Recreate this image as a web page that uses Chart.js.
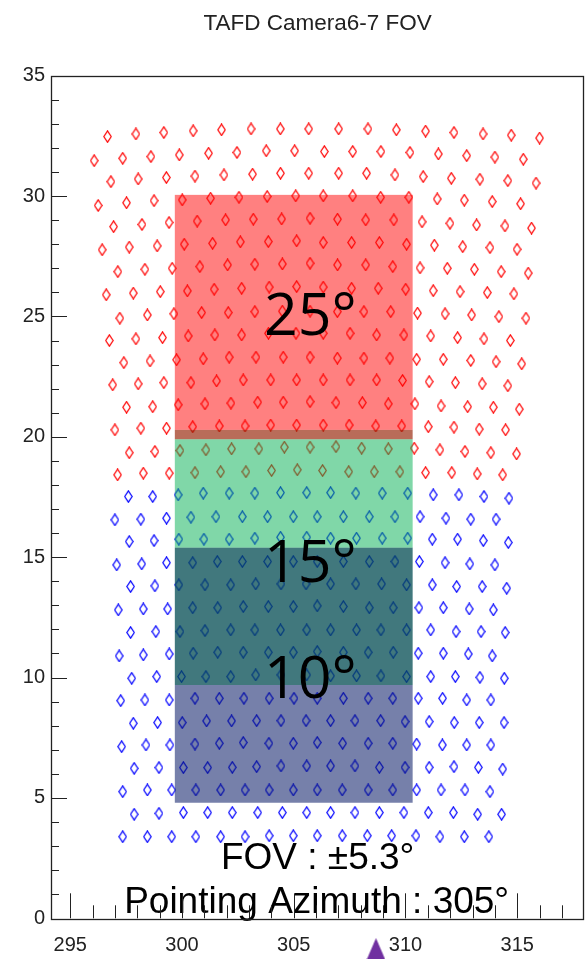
<!DOCTYPE html>
<html>
<head>
<meta charset="utf-8">
<title>TAFD Camera6-7 FOV</title>
<script src="https://cdn.jsdelivr.net/npm/chart.js@4.4.1/dist/chart.umd.min.js"></script>
<style>
  html, body { margin: 0; padding: 0; background: #ffffff; }
  #fov { display: block; }
</style>
</head>
<body>
<canvas id="fov" width="587" height="959"></canvas>
<script>
// Axis tick values (azimuth / elevation, degrees)
const azTicks = [295, 300, 305, 310, 315];
const elTicks = [0, 5, 10, 15, 20, 25, 30, 35];

// Camera 6 PMT pointing directions, one inner array per PMT row (azimuth, degrees)
const cam6Az = [
  [296.67,297.94,299.19,300.50,301.77,303.09,304.40,305.67,307.01,308.32,309.59,310.90,312.17,313.47,314.73,316.00],
  [296.07,297.35,298.61,299.88,301.19,302.46,303.77,305.04,306.37,307.64,308.90,310.20,311.47,312.74,314.00,315.27],
  [296.82,298.04,299.30,300.58,301.88,303.16,304.41,305.67,307.01,308.26,309.53,310.79,312.05,313.33,314.58,315.84],
  [296.25,297.52,298.75,300.01,301.28,302.55,303.81,305.09,306.32,307.64,308.89,310.15,311.42,312.63,313.88,315.15],
  [296.94,298.21,299.42,300.68,301.95,303.19,304.46,305.73,306.96,308.22,309.48,310.74,311.99,313.18,314.45,315.64],
  [296.43,297.64,298.89,300.10,301.37,302.61,303.86,305.13,306.32,307.59,308.83,310.05,311.29,312.56,313.78,314.99],
  [297.13,298.34,299.56,300.80,302.04,303.26,304.49,305.73,306.96,308.22,309.43,310.65,311.87,313.08,314.28,315.49],
  [296.61,297.82,299.03,300.24,301.44,302.67,303.90,305.13,306.32,307.59,308.78,310.01,311.24,312.44,313.66,314.85],
  [297.22,298.45,299.64,300.88,302.07,303.26,304.49,305.73,306.95,308.14,309.34,310.54,311.77,312.96,314.18,315.39],
  [296.75,297.94,299.13,300.28,301.47,302.67,303.87,305.10,306.32,307.52,308.71,309.93,311.13,312.33,313.51,314.69],
  [297.40,298.57,299.76,300.95,302.11,303.31,304.53,305.73,306.95,308.14,309.30,310.50,311.69,312.92,314.05,315.20],
  [296.90,298.04,299.19,300.40,301.55,302.74,303.97,305.13,306.32,307.52,308.71,309.87,311.06,312.23,313.43,314.58],
  [297.52,298.69,299.83,301.03,302.19,303.39,304.53,305.73,306.89,308.07,309.23,310.42,311.59,312.78,313.93,315.09],
  [297.00,298.16,299.31,300.48,301.67,302.82,303.97,305.13,306.32,307.48,308.67,309.83,311.02,312.17,313.30,314.48],
  [297.64,298.79,299.91,301.07,302.22,303.44,304.58,305.73,306.89,308.04,309.23,310.39,311.54,312.66,313.82,314.97],
  [297.12,298.27,299.43,300.58,301.73,302.86,304.01,305.16,306.29,307.46,308.60,309.75,310.90,312.07,313.21,314.35]
];
// Camera 6 elevations (degrees), same layout as cam6Az
const cam6El = [
  [32.47,32.58,32.64,32.71,32.75,32.79,32.79,32.79,32.79,32.79,32.75,32.70,32.64,32.58,32.53,32.41],
  [31.47,31.57,31.64,31.71,31.78,31.81,31.88,31.88,31.85,31.85,31.85,31.81,31.75,31.68,31.62,31.53],
  [30.60,30.71,30.77,30.83,30.88,30.91,30.95,30.95,30.95,30.95,30.88,30.81,30.74,30.70,30.64,30.54],
  [29.61,29.72,29.81,29.84,29.91,29.95,29.98,30.01,30.01,30.01,29.95,29.95,29.88,29.83,29.77,29.68],
  [28.73,28.82,28.90,28.96,29.01,29.04,29.05,29.08,29.04,29.01,29.01,28.93,28.87,28.80,28.76,28.67],
  [27.77,27.88,27.93,28.00,28.04,28.10,28.11,28.14,28.07,28.07,28.07,28.00,27.96,27.90,27.86,27.79],
  [26.86,26.96,27.00,27.07,27.14,27.17,27.18,27.21,27.14,27.14,27.07,27.02,27.00,26.96,26.86,26.80],
  [25.90,25.97,26.03,26.06,26.13,26.17,26.22,26.24,26.22,26.17,26.17,26.13,26.07,26.03,25.99,25.94],
  [24.93,25.06,25.11,25.16,25.16,25.20,25.22,25.22,25.20,25.20,25.20,25.14,25.11,25.06,24.99,24.93],
  [24.00,24.07,24.12,24.19,24.23,24.23,24.30,24.30,24.30,24.30,24.23,24.23,24.19,24.12,24.07,24.00],
  [23.08,23.15,23.20,23.24,23.31,23.31,23.31,23.31,23.27,23.27,23.27,23.22,23.22,23.17,23.12,23.03],
  [22.16,22.20,22.25,22.25,22.32,22.36,22.36,22.36,22.36,22.36,22.36,22.34,22.29,22.25,22.20,22.12],
  [21.23,21.25,21.33,21.37,21.40,21.44,21.44,21.46,21.42,21.42,21.37,21.37,21.28,21.25,21.23,21.15],
  [20.29,20.36,20.36,20.42,20.45,20.45,20.49,20.49,20.49,20.49,20.45,20.45,20.42,20.40,20.32,20.29],
  [19.34,19.39,19.43,19.46,19.50,19.50,19.57,19.57,19.59,19.53,19.50,19.53,19.46,19.39,19.34,19.29],
  [18.42,18.49,18.49,18.51,18.55,18.55,18.60,18.63,18.60,18.55,18.55,18.55,18.51,18.51,18.46,18.42]
];

// Camera 7 PMT pointing directions (azimuth, degrees)
const cam7Az = [
  [297.60,298.69,299.83,300.95,302.11,303.26,304.41,305.58,306.65,307.78,308.96,310.10,311.24,312.39,313.51,314.63],
  [297.00,298.16,299.31,300.40,301.52,302.70,303.83,304.98,306.05,307.22,308.38,309.53,310.65,311.81,312.92,314.05],
  [297.64,298.75,299.86,300.98,302.11,303.26,304.41,305.58,306.65,307.81,308.96,310.10,311.20,312.33,313.48,314.60],
  [297.08,298.20,299.31,300.48,301.58,302.70,303.83,304.98,306.05,307.22,308.38,309.53,310.62,311.77,312.88,314.00],
  [297.70,298.79,299.86,301.03,302.18,303.30,304.43,305.55,306.65,307.78,308.93,310.05,311.20,312.29,313.43,314.53],
  [297.15,298.27,299.36,300.48,301.60,302.74,303.86,304.98,306.05,307.22,308.38,309.45,310.60,311.69,312.85,313.93],
  [297.70,298.83,299.91,301.03,302.18,303.26,304.41,305.58,306.65,307.81,308.90,310.05,311.13,312.26,313.38,314.46],
  [297.19,298.27,299.43,300.50,301.60,302.74,303.86,304.98,306.05,307.22,308.33,309.45,310.57,311.69,312.81,313.88],
  [297.75,298.87,299.98,301.07,302.18,303.30,304.43,305.58,306.65,307.81,308.90,310.05,311.13,312.23,313.33,314.42],
  [297.26,298.34,299.43,300.58,301.67,302.77,303.90,305.01,306.05,307.22,308.33,309.43,310.57,311.66,312.74,313.82],
  [297.82,298.91,300.01,301.10,302.22,303.34,304.43,305.55,306.65,307.74,308.89,309.98,311.06,312.18,313.30,314.41],
  [297.30,298.39,299.46,300.58,301.67,302.74,303.89,304.98,306.05,307.19,308.33,309.43,310.50,311.65,312.74,313.82],
  [297.86,298.97,300.06,301.15,302.25,303.34,304.43,305.58,306.65,307.74,308.83,309.98,311.06,312.17,313.26,314.35],
  [297.35,298.45,299.54,300.62,301.73,302.82,303.90,304.98,306.05,307.17,308.33,309.43,310.50,311.59,312.66,313.78],
  [297.86,298.97,300.06,301.15,302.25,303.39,304.49,305.58,306.65,307.74,308.83,309.93,311.02,312.14,313.23,314.30],
  [297.35,298.45,299.54,300.62,301.73,302.82,303.90,304.98,306.05,307.17,308.29,309.38,310.47,311.54,312.63,313.73]
];
// Camera 7 elevations (degrees)
const cam7El = [
  [17.52,17.52,17.59,17.66,17.66,17.66,17.68,17.68,17.68,17.66,17.66,17.66,17.59,17.59,17.52,17.45],
  [16.55,16.58,16.62,16.66,16.68,16.68,16.68,16.68,16.68,16.68,16.68,16.68,16.68,16.62,16.58,16.58],
  [15.65,15.69,15.75,15.75,15.75,15.79,15.83,15.83,15.79,15.79,15.79,15.79,15.75,15.75,15.69,15.61],
  [14.68,14.72,14.77,14.77,14.82,14.82,14.82,14.82,14.82,14.82,14.82,14.82,14.82,14.77,14.72,14.68],
  [13.78,13.81,13.85,13.85,13.85,13.89,13.89,13.89,13.89,13.89,13.89,13.85,13.85,13.78,13.78,13.71],
  [12.81,12.85,12.85,12.90,12.90,12.95,12.95,12.95,12.98,12.95,12.90,12.90,12.90,12.90,12.85,12.81],
  [11.87,11.91,11.91,11.95,11.98,11.98,11.98,11.98,11.98,11.98,11.98,11.98,11.98,11.91,11.91,11.87],
  [10.90,10.94,10.98,11.01,11.05,11.05,11.05,11.05,11.08,11.05,11.05,11.05,11.01,11.01,10.98,10.90],
  [9.97,10.04,10.04,10.04,10.04,10.11,10.11,10.11,10.07,10.07,10.07,10.04,10.04,10.04,10.01,9.97],
  [9.04,9.07,9.07,9.14,9.14,9.14,9.14,9.14,9.14,9.14,9.14,9.14,9.14,9.14,9.07,9.07],
  [8.10,8.13,8.13,8.20,8.20,8.21,8.21,8.21,8.21,8.21,8.21,8.17,8.17,8.13,8.13,8.13],
  [7.13,7.20,7.20,7.24,7.27,7.30,7.27,7.27,7.30,7.27,7.27,7.27,7.24,7.20,7.20,7.20],
  [6.23,6.26,6.26,6.26,6.27,6.30,6.33,6.33,6.33,6.33,6.27,6.27,6.27,6.30,6.27,6.20],
  [5.26,5.33,5.33,5.33,5.33,5.33,5.33,5.33,5.33,5.33,5.33,5.33,5.33,5.33,5.33,5.26],
  [4.32,4.36,4.39,4.39,4.39,4.39,4.39,4.39,4.39,4.39,4.39,4.39,4.39,4.39,4.32,4.32],
  [3.39,3.39,3.39,3.39,3.39,3.39,3.43,3.43,3.43,3.43,3.43,3.43,3.43,3.39,3.39,3.39]
];

// Telescope FOV boxes: common azimuth span, one elevation band per pointing
const fovLabels = ['25°', '15°', '10°'];
const fovElLow  = [19.90, 9.69, 4.80];
const fovElHigh = [30.05, 20.29, 15.40];
const fovAzMin = 299.68;
const fovAzMax = 310.32;

// Pointing-direction marker under the azimuth axis
const pointerAz = [308.68];
const pointerEl = [-1.28];

const SANS = '"Liberation Sans", Arial, Helvetica, sans-serif';

function toPoints(azRows, elRows) {
  const pts = [];
  azRows.forEach((row, r) => row.forEach((az, i) => pts.push({ x: az, y: elRows[r][i] })));
  return pts;
}

function diamondSprite(color) {
  const c = document.createElement('canvas');
  c.width = 9; c.height = 13;
  const g = c.getContext('2d');
  g.strokeStyle = color;
  g.lineWidth = 1.2;
  g.beginPath();
  g.moveTo(4.5, 0.8);
  g.lineTo(8.2, 6.5);
  g.lineTo(4.5, 12.2);
  g.lineTo(0.8, 6.5);
  g.closePath();
  g.stroke();
  return c;
}

function triangleSprite(color) {
  const c = document.createElement('canvas');
  c.width = 19; c.height = 22;
  const g = c.getContext('2d');
  g.fillStyle = color;
  g.beginPath();
  g.moveTo(9.5, 0);
  g.lineTo(19, 22);
  g.lineTo(0, 22);
  g.closePath();
  g.fill();
  return c;
}

// Shading for each overlap combination of the FOV boxes
const bandFill = {
  '25°': 'rgba(255,1,1,0.5)',
  '25°+15°': 'rgba(147,29,0,0.65)',
  '15°': 'rgba(1,175,81,0.5)',
  '15°+10°': 'rgba(2,75,82,0.75)',
  '10°': 'rgba(6,24,100,0.55)'
};

const fovOverlay = {
  id: 'fovOverlay',
  afterDatasetsDraw(chart) {
    const { ctx, chartArea, scales: { x, y } } = chart;
    const edges = [...new Set([...fovElLow, ...fovElHigh])].sort((a, b) => a - b);
    const x0 = x.getPixelForValue(fovAzMin);
    const x1 = x.getPixelForValue(fovAzMax);
    ctx.save();
    ctx.beginPath();
    ctx.rect(chartArea.left, chartArea.top, chartArea.right - chartArea.left, chartArea.bottom - chartArea.top);
    ctx.clip();
    for (let i = 0; i < edges.length - 1; i++) {
      const lo = edges[i], hi = edges[i + 1], mid = (lo + hi) / 2;
      const key = fovLabels.filter((_, k) => mid > fovElLow[k] && mid < fovElHigh[k]).join('+');
      if (!bandFill[key]) continue;
      const yTop = y.getPixelForValue(hi);
      const yBot = y.getPixelForValue(lo);
      ctx.fillStyle = bandFill[key];
      ctx.fillRect(x0, yTop, x1 - x0, yBot - yTop);
    }
    ctx.restore();

    // elevation labels on the boxes
    ctx.save();
    ctx.fillStyle = '#000';
    ctx.textAlign = 'left';
    ctx.textBaseline = 'alphabetic';
    ctx.font = '59px "Open Sans", "Noto Sans", sans-serif';
    const labelBase = [335, 582, 698];
    fovLabels.forEach((t, k) => ctx.fillText(t, 264, labelBase[k]));

    ctx.font = '37px ' + SANS;
    ctx.textAlign = 'center';
    const cx = (chartArea.left + chartArea.right) / 2;
    ctx.fillText('FOV : \u00B15.3\u00B0', cx, 869);
    ctx.fillText('Pointing Azimuth : 305\u00B0', cx - 1, 913);
    ctx.restore();
  },
  afterDraw(chart) {
    const { ctx, chartArea: a, scales: { x, y } } = chart;
    ctx.save();
    ctx.strokeStyle = '#222';
    ctx.lineWidth = 1;
    ctx.beginPath();
    // minor / major tick marks drawn inward
    for (let v = Math.ceil(x.min); v <= Math.floor(x.max); v++) {
      if (v <= x.min || v >= x.max) continue;
      const px = Math.round(x.getPixelForValue(v)) + 0.5;
      const len = azTicks.includes(v) ? 25 : 13;
      ctx.moveTo(px, a.bottom);
      ctx.lineTo(px, a.bottom - len);
    }
    for (let v = Math.ceil(y.min); v <= Math.floor(y.max); v++) {
      if (v <= y.min || v >= y.max) continue;
      const py = Math.round(y.getPixelForValue(v)) + 0.5;
      const len = elTicks.includes(v) ? 16 : 8;
      ctx.moveTo(a.left, py);
      ctx.lineTo(a.left + len, py);
    }
    ctx.stroke();
    ctx.lineWidth = 1.3;
    ctx.strokeRect(Math.round(a.left) + 0.5, Math.round(a.top) + 0.5,
                   Math.round(a.right - a.left) - 1, Math.round(a.bottom - a.top));
    ctx.restore();

    // pointing marker sits below the axis, outside the plot area
    const meta = chart.getDatasetMeta(2);
    const full = { left: 0, top: 0, right: chart.width, bottom: chart.height };
    meta.data.forEach(el => el.draw(ctx, full));
  }
};

new Chart(document.getElementById('fov'), {
  type: 'scatter',
  data: {
    datasets: [
      {
        label: 'Camera 6',
        data: toPoints(cam6Az, cam6El),
        pointStyle: diamondSprite('#ff0000'),
        pointRadius: 5
      },
      {
        label: 'Camera 7',
        data: toPoints(cam7Az, cam7El),
        pointStyle: diamondSprite('#0000ff'),
        pointRadius: 5
      },
      {
        label: 'Pointing',
        data: pointerAz.map((az, i) => ({ x: az, y: pointerEl[i] })),
        pointStyle: triangleSprite('#7030a0'),
        pointRadius: 10,
        clip: false
      }
    ]
  },
  options: {
    responsive: false,
    animation: false,
    devicePixelRatio: 1,
    layout: { autoPadding: false, padding: { left: 0, right: 2.7, top: 0, bottom: 0 } },
    plugins: {
      legend: { display: false },
      tooltip: { enabled: false },
      title: {
        display: true,
        text: 'TAFD Camera6-7 FOV',
        fullSize: false,
        color: '#222',
        font: { family: SANS, size: 22.5, weight: 'normal' },
        padding: { top: 10, bottom: 38.7 }
      }
    },
    scales: {
      x: {
        type: 'linear',
        position: 'bottom',
        min: 294.14,
        max: 318.0,
        afterBuildTicks: s => { s.ticks = azTicks.map(v => ({ value: v })); },
        afterFit: s => { s.height = 40.7; },
        grid: { display: false, drawTicks: false },
        border: { display: false },
        ticks: {
          color: '#222',
          font: { family: SANS, size: 20 },
          padding: 15.5,
          maxRotation: 0,
          autoSkip: false
        }
      },
      y: {
        type: 'linear',
        position: 'left',
        min: 0,
        max: 35,
        afterBuildTicks: s => { s.ticks = elTicks.map(v => ({ value: v })); },
        afterFit: s => { s.width = 51; },
        grid: { display: false, drawTicks: false },
        border: { display: false },
        ticks: {
          color: '#222',
          font: { family: SANS, size: 20 },
          padding: 6,
          autoSkip: false
        }
      }
    }
  },
  plugins: [fovOverlay]
});
</script>
</body>
</html>
